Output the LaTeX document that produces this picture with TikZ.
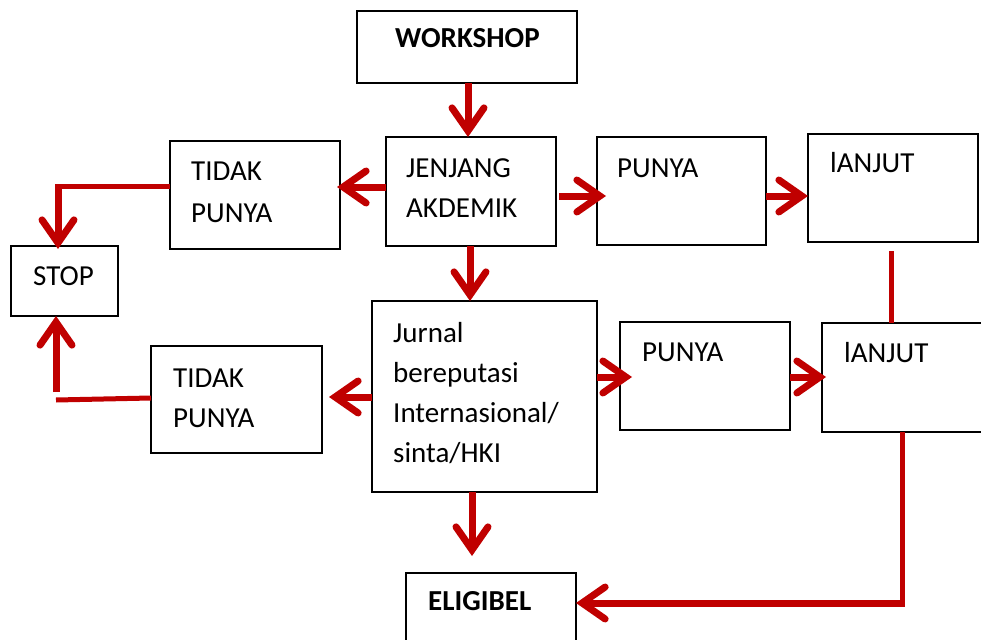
\documentclass[tikz,border=0pt]{standalone}
\usepackage{fontspec}
\setmainfont{Carlito}
\usetikzlibrary{arrows.meta}
\definecolor{flowred}{HTML}{C00000}
\tikzset{
  box/.style={draw=black, line width=2pt, rectangle, inner sep=0pt, outer sep=0pt},
  lbl/.style={anchor=base west, inner sep=0pt, font=\fontsize{29}{34}\selectfont},
  blbl/.style={lbl, font=\fontsize{29}{34}\selectfont\bfseries},
  flow/.style={draw=flowred, line width=7pt,
    -{Straight Barb[length=23pt, width=32pt, line cap=round, line join=miter]}},
  link/.style={draw=flowred, line width=5pt},
}
\begin{document}
\begin{tikzpicture}[x=1pt, y=-1pt]
\useasboundingbox (0,0) rectangle (981,639);

% boxes
\node[box, minimum width=220pt, minimum height=72pt]  (ws)   at (467,47)    {};
\node[box, minimum width=170pt, minimum height=109pt] (jen)  at (471,191.5) {};
\node[box, minimum width=170pt, minimum height=108pt] (tp1)  at (255,195)   {};
\node[box, minimum width=169pt, minimum height=108pt] (pu1)  at (681.5,191) {};
\node[box, minimum width=170pt, minimum height=108pt] (la1)  at (893,188)   {};
\node[box, minimum width=107pt, minimum height=70pt]  (stop) at (64.5,281)  {};
\node[box, minimum width=225pt, minimum height=191pt] (jur)  at (484.5,396.5){};
\node[box, minimum width=171pt, minimum height=107pt] (tp2)  at (236.5,399.5){};
\node[box, minimum width=170pt, minimum height=108pt] (pu2)  at (705,376)   {};
\node[box, minimum width=168pt, minimum height=109pt] (la2)  at (906,377.5) {};
\node[box, minimum width=170pt, minimum height=77pt]  (eli)  at (491,611.5) {};

% labels
\node[blbl] (tws)  at (395,48)  {WORKSHOP};
\node[lbl]  (tjen1) at (406,177) {JENJANG};
\node[lbl]  (tjen2) at (406,217) {AKDEMIK};
\node[lbl]  (ttp1a) at (191,180) {TIDAK};
\node[lbl]  (ttp1b) at (191,222) {PUNYA};
\node[lbl]  (tpu1)  at (617,177) {PUNYA};
\node[lbl]  (tla1)  at (830,172) {lANJUT};
\node[lbl]  (tstop) at (33,285)  {STOP};
\node[lbl]  (tjur1) at (393,342) {Jurnal};
\node[lbl]  (tjur2) at (393,382) {bereputasi};
\node[lbl]  (tjur3) at (393,422) {Internasional/};
\node[lbl]  (tjur4) at (393,462) {sinta/HKI};
\node[lbl]  (ttp2a) at (173,387) {TIDAK};
\node[lbl]  (ttp2b) at (173,427) {PUNYA};
\node[lbl]  (tpu2)  at (642,361) {PUNYA};
\node[lbl]  (tla2)  at (844,362) {lANJUT};
\node[blbl] (teli)  at (428,610) {ELIGIBEL};

% connectors
\draw[flow] (ws.south -| 468,0) -- (jen.north -| 468,0);
\draw[flow, shorten >=-3pt] (jen.west |- 0,187) -- (tp1.east |- 0,187);
\draw[flow, shorten <=3pt, shorten >=-9pt] (jen.east |- 0,196) -- (pu1.west |- 0,196);
\draw[flow] (pu1.east |- 0,196) -- (la1.west |- 0,196);
\draw[flow] (jen.south -| 470,0) -- (jur.north -| 470,0);
\draw[flow, shorten >=7pt] (jur.west |- 0,397) -- (tp2.east |- 0,397);
\draw[flow, shorten >=-12pt] (jur.east |- 0,377) -- (pu2.west |- 0,377);
\draw[flow, shorten >=-4pt] (pu2.east |- 0,377) -- (la2.west |- 0,377);
\draw[flow, shorten >=17pt] (jur.south -| 472,0) -- (eli.north -| 472,0);

\draw[link, shorten <=9pt] (la1.south -| 891,0) -- (la2.north -| 891,0);

\coordinate (c3) at (902,603);
\draw[link] (la2.south -| 902,0) -- ([yshift=-1pt]c3);
\draw[flow] ([xshift=2.5pt]c3) -- (eli.east |- c3);

\coordinate (c1) at (58,186);
\draw[link] (tp1.west |- c1) -- ([xshift=-3.5pt]c1);
\draw[flow, shorten >=-3pt] (c1) -- (stop.north -| c1);

\coordinate (c2) at (56,400);
\draw[link] (tp2.west |- 0,398) -- (c2);
\draw[flow, shorten <=8pt] (c2) -- (stop.south -| c2);
\end{tikzpicture}
\end{document}
